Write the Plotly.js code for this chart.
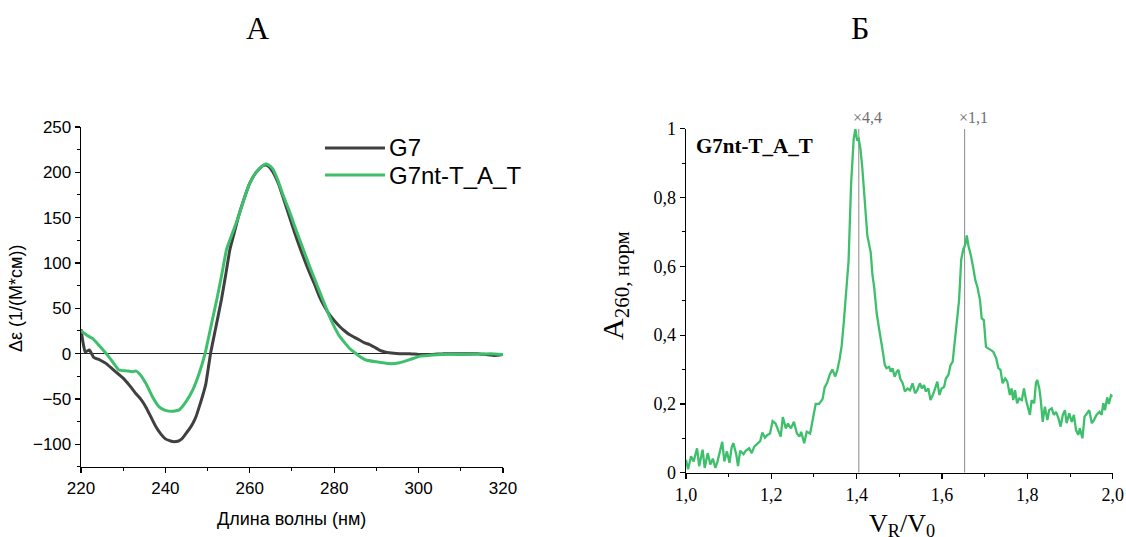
<!DOCTYPE html>
<html>
<head>
<meta charset="utf-8">
<script src="https://cdn.plot.ly/plotly-3.0.1.min.js"></script>
<style>html,body{margin:0;padding:0;background:#fff;}#chart{width:1126px;height:537px;}</style>
</head>
<body>
<div id="chart"></div>
<script>
// ---- Panel A: CD spectra ----
const wavelengthG7 = [220,220.5,221,222,223,224.5,226,227.5,229,230,
  231.5,233,234.3,235.4,236.6,237.8,239,240,241,241.7,
  242.5,243.3,244.1,244.9,245.7,246.5,247.3,248,248.8,249.6,
  250.7,252,253.3,254.3,255.3,256.3,257.3,258.6,260,261.5,
  263,263.8,264.6,265.4,266.2,267,268.2,269.4,270.6,271.8,
  273,274.2,275.4,276.5,277.7,278.9,280.1,281.3,282.5,283.6,
  284.8,286,287.2,288.4,289.6,290.7,292,293,295.5,298,
  300,303,306,309,312,314,316,318,320];
const deltaEpsG7 = [27,12,2,4,-4,-7,-11,-17,-23,-27,
  -35,-44,-51,-59,-70,-81,-89,-94,-96,-97,
  -97,-96,-93,-88,-83,-77,-69,-59,-47,-33,
  0,30,60,87,115,133,151,170,188,200,
  207,208,206,201,194,185,168,151,134,118,
  103,89,76,63,52,43,36,30,25,21,
  18,15,12,10,7,4,2,1,0,0,
  -1,-1,0,0,0,0,-1,-2,-1];

const wavelengthG7nt = [220,221.5,222.8,224.3,226,227.5,229,230.7,232.3,233,
  233.8,235.4,237,238.6,240,241.7,243.3,244.9,246.5,248,
  249.4,250.8,252.2,253.4,254.5,255.9,257.3,258.6,260,261.5,
  263,263.6,264.5,265.4,266.6,267.8,269.4,270.6,271.8,273,
  274.2,275.4,276.5,277.7,278.9,280.1,281.3,282.5,283.6,285.2,
  286.3,287.5,289.9,293,295.5,297.9,300.2,303.4,307.4,311.3,
  315.3,317,320];
const deltaEpsG7nt = [25,20,16.5,9,0,-9,-18,-19,-20,-19,
  -22,-33,-48,-59,-62.5,-63.6,-62,-53,-40,-22,
  0,30,60,88,115,133,151,170,188,200,
  207,209,208,204,192,176,157,141,126,111,
  96,82,69,55,41,29,19,12,6,0,
  -4,-7,-9,-11,-10,-6.6,-3,-1.5,-0.7,-1,
  -0.5,0,-1];

const seriesNames = ['G7', 'G7nt-T_A_T'];
const xTicksA = [220,240,260,280,300,320];
const yTicksA = [-100,-50,0,50,100,150,200,250];

// ---- Panel Б: chromatogram ----
const volumeRatio = [
  1.000,1.005,1.012,1.018,1.026,1.031,1.039,1.044,1.051,1.057,
  1.063,1.069,1.074,1.085,1.090,1.096,1.102,1.107,1.111,1.118,
  1.122,1.127,1.135,1.140,1.148,1.154,1.160,1.168,1.174,1.179,
  1.185,1.191,1.197,1.203,1.210,1.216,1.222,1.227,1.234,1.239,
  1.246,1.253,1.260,1.266,1.270,1.277,1.283,1.291,1.297,1.304,
  1.312,1.320,1.325,1.331,1.337,
  1.343,1.350,1.355,1.360,1.365,1.370,1.375,1.381,1.387,1.393,
  1.397,1.401,1.405,1.409,1.413,1.417,1.425,1.433,1.437,1.441,
  1.447,
  1.453,1.459,1.462,1.466,1.470,1.476,1.480,1.484,1.489,1.494,
  1.498,1.502,1.508,1.513,1.519,1.525,1.531,1.537,1.542,1.548,
  1.553,1.558,1.562,1.568,1.573,1.580,1.586,1.589,1.594,1.599,
  1.605,1.609,1.615,1.620,1.625,1.630,1.636,1.640,
  1.645,1.650,1.655,1.658,1.662,1.668,1.674,1.678,1.683,1.689,
  1.693,1.698,1.703,1.712,1.720,1.727,1.732,1.737,1.742,1.748,
  1.753,1.759,1.763,1.767,1.771,1.776,1.781,1.787,1.792,1.797,
  1.802,1.806,1.810,1.816,1.820,1.823,1.828,1.831,1.836,1.841,
  1.847,1.851,1.857,1.862,1.867,1.873,1.878,1.883,1.888,1.892,
  1.898,1.904,1.909,1.914,1.919,1.923,1.929,1.934,1.940,1.945,
  1.951,1.956,1.962,1.969,1.974,1.978,1.982,1.987,1.991,1.996,
  2.000];
const absNorm = [
  0.038,0.010,0.048,0.033,0.071,0.019,0.067,0.014,0.057,0.024,
  0.041,0.014,0.033,0.090,0.033,0.062,0.029,0.073,0.086,0.052,
  0.019,0.064,0.054,0.064,0.071,0.057,0.076,0.086,0.092,0.117,
  0.102,0.110,0.114,0.150,0.143,0.124,0.105,0.162,0.129,0.143,
  0.129,0.148,0.114,0.105,0.119,0.086,0.119,0.114,0.157,0.200,
  0.200,0.214,0.248,0.262,0.286,
  0.300,0.280,0.300,0.330,0.370,0.440,0.520,0.615,0.840,0.970,
  1.000,0.966,0.970,0.940,0.890,0.820,0.690,0.640,0.575,0.540,
  0.463,
  0.415,0.376,0.347,0.313,0.304,0.308,0.294,0.304,0.279,0.294,
  0.299,0.274,0.260,0.236,0.245,0.240,0.260,0.231,0.240,0.260,
  0.245,0.255,0.236,0.245,0.211,0.231,0.250,0.265,0.226,0.245,
  0.250,0.274,0.284,0.313,0.323,0.386,0.444,0.502,
  0.620,0.650,0.665,0.690,0.660,0.630,0.590,0.560,0.540,0.502,
  0.449,0.444,0.366,0.359,0.352,0.333,0.304,0.299,0.260,0.274,
  0.265,0.226,0.245,0.211,0.240,0.202,0.216,0.211,0.245,0.211,
  0.187,0.168,0.211,0.202,0.260,0.270,0.245,0.216,0.148,0.192,
  0.153,0.182,0.187,0.168,0.177,0.158,0.134,0.168,0.182,0.144,
  0.173,0.148,0.168,0.124,0.110,0.129,0.100,0.163,0.173,0.182,
  0.144,0.153,0.168,0.177,0.168,0.202,0.182,0.219,0.200,0.225,
  0.222];

const peakPositions = [1.405, 1.653];
const peakLabels = ['×4,4', '×1,1'];
const xTicksB = [1.0,1.2,1.4,1.6,1.8,2.0];
const xTickTextB = ['1,0','1,2','1,4','1,6','1,8','2,0'];
const yTicksB = [0,0.2,0.4,0.6,0.8,1];
const yTickTextB = ['0','0,2','0,4','0,6','0,8','1'];

const GREEN = '#3dbf6c';
const DARK = '#404040';
const SANS = 'Liberation Sans, Arial, sans-serif';
const SERIF = 'Liberation Serif, Times New Roman, serif';
const seriesColors = [DARK, GREEN];

const traces = [
  {x: wavelengthG7, y: deltaEpsG7, name: seriesNames[0], type: 'scatter', mode: 'lines',
   line: {color: DARK, width: 3, shape: 'spline', smoothing: 0.4}, xaxis: 'x', yaxis: 'y'},
  {x: wavelengthG7nt, y: deltaEpsG7nt, name: seriesNames[1], type: 'scatter', mode: 'lines',
   line: {color: GREEN, width: 3, shape: 'spline', smoothing: 0.4}, xaxis: 'x', yaxis: 'y'},
  {x: volumeRatio, y: absNorm, name: seriesNames[1], type: 'scatter', mode: 'lines',
   line: {color: GREEN, width: 2.3}, xaxis: 'x2', yaxis: 'y2'}
];

const axBase = {showgrid: false, showline: true, linecolor: '#000', linewidth: 1.3, ticks: 'outside',
  ticklen: 5, tickwidth: 1.3, tickcolor: '#000', zeroline: false, fixedrange: true};

// legend drawn in the left panel (paper coordinates)
const legendX0 = 0.2886, legendX1 = 0.3419, legendY = [0.7244, 0.6741];
const legendShapes = seriesNames.map((n, i) => ({type: 'line', xref: 'paper', yref: 'paper',
  x0: legendX0, x1: legendX1, y0: legendY[i], y1: legendY[i], line: {color: seriesColors[i], width: 3}}));
const legendTexts = seriesNames.map((n, i) => ({text: n, xref: 'paper', yref: 'paper', x: legendX1 + 0.002,
  y: legendY[i], xanchor: 'left', yanchor: 'middle', showarrow: false,
  font: {family: SANS, size: 24, color: '#000'}}));

const C = {xanchor: 'center', yanchor: 'middle', showarrow: false, xref: 'paper', yref: 'paper'};

const layout = {
  width: 1126, height: 537, autosize: false,
  margin: {l: 0, r: 0, t: 0, b: 0},
  paper_bgcolor: '#fff', plot_bgcolor: '#fff',
  showlegend: false,
  xaxis: Object.assign({}, axBase, {domain: [0.0719, 0.4467], range: [220, 320], tickvals: xTicksA,
    anchor: 'y', tickfont: {family: SANS, size: 17, color: '#000'},
    minor: {dtick: 10, tick0: 220, ticks: 'outside', ticklen: 3, tickcolor: '#000', tickwidth: 1}}),
  yaxis: Object.assign({}, axBase, {domain: [0.1304, 0.7635], range: [-125, 250], tickvals: yTicksA,
    anchor: 'x', tickfont: {family: SANS, size: 17, color: '#000'},
    zeroline: true, zerolinecolor: '#222', zerolinewidth: 1.2,
    minor: {dtick: 25, tick0: 0, ticks: 'outside', ticklen: 3, tickcolor: '#000', tickwidth: 1}}),
  xaxis2: Object.assign({}, axBase, {domain: [0.6092, 0.9882], range: [1, 2], tickvals: xTicksB, ticktext: xTickTextB,
    anchor: 'y2', tickfont: {family: SERIF, size: 18, color: '#000'},
    minor: {dtick: 0.1, tick0: 1, ticks: 'outside', ticklen: 3, tickcolor: '#000', tickwidth: 1}}),
  yaxis2: Object.assign({}, axBase, {domain: [0.1197, 0.7601], range: [0, 1], tickvals: yTicksB, ticktext: yTickTextB,
    anchor: 'x2', tickfont: {family: SERIF, size: 18, color: '#000'},
    minor: {dtick: 0.1, tick0: 0, ticks: 'outside', ticklen: 3, tickcolor: '#000', tickwidth: 1}}),
  shapes: peakPositions.map(p => ({type: 'line', xref: 'x2', yref: 'y2', x0: p, x1: p, y0: 0, y1: 1,
    line: {color: '#8a8a8a', width: 1}, layer: 'below'})).concat(legendShapes),
  annotations: [
    Object.assign({}, C, {text: 'А', x: 0.2291, y: 0.948, font: {family: SERIF, size: 32, color: '#000'}}),
    Object.assign({}, C, {text: 'Б', x: 0.7638, y: 0.948, font: {family: SERIF, size: 32, color: '#000'}}),
    Object.assign({}, C, {text: 'Длина волны (нм)', x: 0.2593, y: 0.0335, font: {family: SANS, size: 18, color: '#000'}}),
    Object.assign({}, C, {text: 'Δε (1/(М*см))', x: 0.0142, y: 0.445, textangle: -90, font: {family: SANS, size: 18, color: '#000'}}),
    Object.assign({}, C, {text: 'A<sub>260, норм</sub>', x: 0.5462, y: 0.4674, textangle: -90, font: {family: SERIF, size: 30, color: '#000'}}),
    Object.assign({}, C, {text: 'V<sub>R</sub>/V<sub>0</sub>', x: 0.8008, y: 0.0559, yanchor: 'top', font: {family: SERIF, size: 26, color: '#000'}}),
    Object.assign({}, C, {text: '<b>G7nt-T_A_T</b>', x: 0.6160, y: 0.7284, xanchor: 'left', font: {family: SERIF, size: 21, color: '#000'}})
  ].concat(legendTexts).concat(peakPositions.map((p, i) => ({text: peakLabels[i], xref: 'x2', yref: 'paper',
     x: p + 0.02, y: 0.7812, xanchor: 'center', yanchor: 'middle',
     showarrow: false, font: {family: SERIF, size: 16, color: '#6e6e6e'}})))
};

Plotly.newPlot('chart', traces, layout, {displayModeBar: false, staticPlot: true});
</script>
</body>
</html>
